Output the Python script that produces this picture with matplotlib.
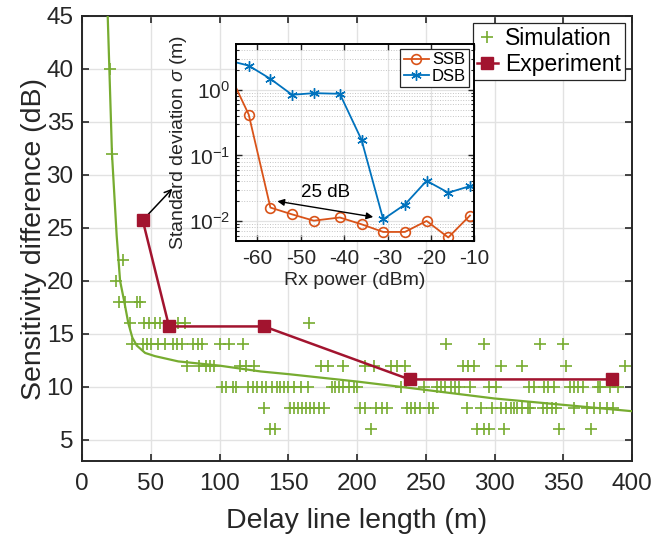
import matplotlib
matplotlib.use("Agg")
import matplotlib.pyplot as plt
from matplotlib.ticker import LogLocator, NullFormatter

plt.rcParams['font.family'] = ['Liberation Sans', 'DejaVu Sans']
plt.rcParams['mathtext.fontset'] = 'custom'
plt.rcParams['mathtext.rm'] = 'Liberation Sans'
plt.rcParams['mathtext.it'] = 'Liberation Sans:italic'
plt.rcParams['axes.unicode_minus'] = False

# ---- simulated sensitivity differences, grouped by level (dB) ----
sim_x_40 = [20]
sim_x_32 = [22]
sim_x_22 = [30]
sim_x_20 = [25]
sim_x_18 = [27, 31, 40, 42]
sim_x_16 = [35, 45, 49, 53, 57, 70, 75, 165]
sim_x_14 = [36, 44, 47, 50, 55, 60, 66, 69, 73, 81, 84, 87, 100, 107, 117,
            265, 292, 333, 350]
sim_x_12 = [76, 85, 90, 93, 96, 115, 119, 125, 174, 179, 190, 206, 212, 225,
            229, 235, 277, 281, 285, 305, 320, 352, 395]
sim_x_10 = [102, 105, 110, 112, 121, 124, 127, 131, 134, 138, 142, 144, 147,
            150, 154, 159, 164, 182, 184, 187, 190, 194, 198, 200, 232, 249,
            258, 261, 264, 268, 271, 274, 282, 296, 301, 325, 329, 336, 339,
            343, 355, 358, 361, 364, 375, 377, 384, 390]
sim_x_8 = [132, 151, 154, 157, 160, 163, 166, 169, 172, 176, 202, 206, 214,
           218, 222, 236, 239, 242, 246, 252, 255, 280, 290, 298, 305, 308,
           312, 314, 316, 320, 324, 326, 335, 338, 342, 345, 358, 367, 372,
           377, 382, 386]
sim_x_6 = [137, 140, 210, 287, 292, 296, 307, 347, 370]

sim_groups = [(40, sim_x_40), (32, sim_x_32), (22, sim_x_22), (20, sim_x_20),
              (18, sim_x_18), (16, sim_x_16), (14, sim_x_14), (12, sim_x_12),
              (10, sim_x_10), (8, sim_x_8), (6, sim_x_6)]
sim_delay = [x for lvl, xs in sim_groups for x in xs]
sim_diff = [lvl for lvl, xs in sim_groups for x in xs]

# fitted trend of the simulation
fit_delay = [18.7, 19.9, 21.8, 25.2, 27.7, 30.8, 33.7, 36.6, 39.8, 45.9, 53,
             70, 100, 130, 150, 200, 238, 300, 350, 400]
fit_diff = [45, 40, 32, 24.3, 20.0, 18.0, 16.0, 14.65, 13.9, 13.2, 12.9,
            12.4, 12.0, 11.45, 11.2, 10.5, 9.9, 8.9, 8.3, 7.7]

# measured
exp_delay = [44.2, 63.3, 132.5, 238.2, 385.7]
exp_diff = [25.7, 15.7, 15.7, 10.7, 10.7]

# inset: ranging precision vs received power
rx_power = [-67, -62, -57, -52, -47, -41, -36, -31, -26, -21, -16, -11]
ssb_std = [2.1, 0.42, 0.016, 0.0126, 0.0101, 0.0113, 0.0089, 0.0068, 0.0068,
           0.010, 0.0056, 0.0121]
dsb_std = [2.84, 2.34, 1.47, 0.84, 0.89, 0.87, 0.173, 0.0106, 0.0178, 0.041,
           0.027, 0.034]

TXT = '#262626'
GRID = '#e2e2e2'
GREEN = '#77AC30'
RED = '#A2142F'

fig = plt.figure(figsize=(6.69, 5.34), dpi=100)
ax = fig.add_axes([82 / 669, 1 - 461 / 534, (632 - 82) / 669, (461 - 16) / 534])

h_sim, = ax.plot(sim_delay, sim_diff, ls='none', marker='+', ms=9, mew=1.2,
                 color=GREEN, label='Simulation', zorder=3)
ax.plot(fit_delay, fit_diff, color=GREEN, lw=1.6, zorder=3)
h_exp, = ax.plot(exp_delay, exp_diff, color=RED, lw=1.8, marker='s', ms=8.5,
                 label='Experiment', zorder=4)

ax.set_xlim(0, 400)
ax.set_ylim(3, 45)
ax.set_xticks(range(0, 401, 50))
ax.set_yticks(range(5, 46, 5))
ax.grid(True, color=GRID, lw=1.0)
ax.set_axisbelow(True)
for s in ax.spines.values():
    s.set_color(TXT)
    s.set_linewidth(1.4)
ax.tick_params(direction='in', top=True, right=True, length=5, width=1.2,
               color=TXT, labelcolor=TXT, labelsize=17.5)
ax.tick_params(axis='x', pad=9)
ax.tick_params(axis='y', pad=6)
ax.set_xlabel('Delay line length (m)', fontsize=20.5, color=TXT, labelpad=9)
ax.set_ylabel('Sensitivity difference (dB)', fontsize=20.5, color=TXT,
              labelpad=0)

leg = ax.legend(handles=[h_sim, h_exp], loc='upper right', fontsize=16.5,
                frameon=True, fancybox=False, edgecolor=TXT, framealpha=1,
                borderaxespad=0.3, handlelength=0.9, handletextpad=0.3,
                borderpad=0.2, labelspacing=0.1)
leg.get_frame().set_linewidth(0.9)

ax.annotate('', xy=(65.7, 28.7), xytext=(48.3, 26.3),
            arrowprops=dict(arrowstyle='->', lw=1.1, color='k',
                            shrinkA=0, shrinkB=0, mutation_scale=12))

# ---- inset ----
axin = fig.add_axes([235.7 / 669, 1 - 240.7 / 534, (474.3 - 235.7) / 669,
                     (240.7 - 44) / 534])
axin.set_zorder(5)
axin.set_facecolor('white')
axin.plot(rx_power, ssb_std, color='#D95319', lw=1.3, marker='o', ms=7,
          mfc='none', mew=1.2, label='SSB')
axin.plot(rx_power, dsb_std, color='#0072BD', lw=1.3, marker=(6, 2, 0), ms=7.5,
          mew=1.0, label='DSB')
axin.set_yscale('log')
axin.set_xlim(-65, -10)
axin.set_ylim(0.005, 5)
axin.set_xticks(range(-60, -9, 10))
axin.yaxis.set_major_locator(LogLocator(base=10, numticks=10))
axin.yaxis.set_minor_locator(LogLocator(base=10, subs=range(2, 10), numticks=20))
axin.yaxis.set_minor_formatter(NullFormatter())
axin.set_yticks([1e-2, 1e-1, 1e0])
axin.grid(True, which='major', color=GRID, lw=0.9)
axin.grid(True, which='minor', axis='y', color='#c4c4c4', ls=':', lw=0.7)
axin.set_axisbelow(True)
for s in axin.spines.values():
    s.set_color('k')
    s.set_linewidth(1.4)
axin.tick_params(which='both', direction='in', top=True, right=True,
                 color=TXT, labelcolor=TXT, labelsize=15)
axin.tick_params(which='major', length=4, width=1.0)
axin.tick_params(which='minor', length=2, width=0.8)
axin.tick_params(axis='x', pad=6)
axin.tick_params(axis='y', pad=4)
axin.set_xlabel('Rx power (dBm)', fontsize=14, color=TXT, labelpad=3)
axin.set_ylabel(r'Standard deviation $\sigma$ (m)', fontsize=14, color=TXT,
                labelpad=0)

ileg = axin.legend(loc='upper right', fontsize=12, frameon=True, fancybox=False,
                   edgecolor=TXT, framealpha=1, borderaxespad=0.3,
                   handlelength=1.5, handletextpad=0.2, borderpad=0.2,
                   labelspacing=0.1)
ileg.get_frame().set_linewidth(0.9)

axin.annotate('', xy=(-55.4, 0.020), xytext=(-33.3, 0.0115),
              arrowprops=dict(arrowstyle='<|-|>', lw=1.0, color='k',
                              shrinkA=0, shrinkB=0, mutation_scale=10))
axin.text(-44.2, 0.0276, '25 dB', fontsize=13.5, color='k', ha='center',
          va='center')

fig.savefig('out.png', dpi=100)
